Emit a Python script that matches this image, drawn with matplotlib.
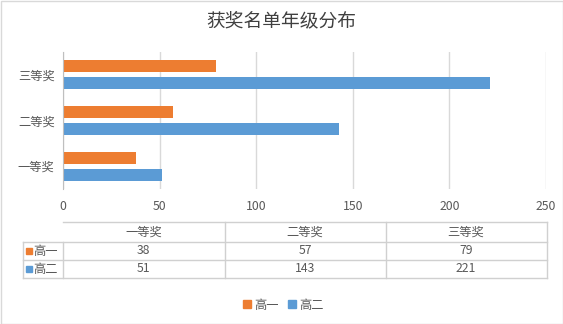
import numpy as np
import matplotlib
matplotlib.use("Agg")
from matplotlib import pyplot as plt
from matplotlib.patches import Rectangle
from matplotlib.lines import Line2D

plt.rcParams['font.family'] = ['Noto Sans CJK SC', 'DejaVu Sans']

# data
categories = ['一等奖', '二等奖', '三等奖']
series = ['高一', '高二']
g1 = [38, 57, 79]
g2 = [51, 143, 221]
colors = ['#ED7D31', '#5B9BD5']
title = '获奖名单年级分布'

W, H = 563, 324
txt = '#595959'
grid = '#d9d9d9'
fs = 8.8

fig = plt.figure(figsize=(W/100, H/100), dpi=100)

def box(x0, y0, x1, y1):
    # pixel box (top-left origin) -> figure rect
    return [x0/W, 1 - y1/H, (x1-x0)/W, (y1-y0)/H]

# outer border
fig.patches.append(Rectangle((0.5/W, 0.5/H), 1-1/W, 1-1/H, transform=fig.transFigure,
                             fill=False, edgecolor='#d9d9d9', lw=1))

fig.text(0.5, 1 - 21/H, title, ha='center', va='center', fontsize=13.5, color='#404040')

ax = fig.add_axes(box(63, 52, 546, 189))
y = np.arange(len(categories))
bh = 0.26
ax.barh(y + 0.185, g1, height=bh, color=colors[0], label=series[0])
ax.barh(y - 0.185, g2, height=bh, color=colors[1], label=series[1])
ax.set_ylim(-0.5, 2.5)
ax.set_xlim(0, 250)
ax.set_xticks(np.arange(0, 251, 50))
ax.set_yticks(y)
ax.set_yticklabels(categories)
ax.tick_params(axis='both', length=0, labelsize=fs, colors=txt)
ax.tick_params(axis='x', pad=8)
ax.tick_params(axis='y', pad=6)
ax.xaxis.grid(True, color=grid, lw=1)
ax.set_axisbelow(True)
for s in ['top', 'right', 'bottom']:
    ax.spines[s].set_visible(False)
ax.spines['left'].set_color('#bfbfbf')

# data table
tx = fig.add_axes(box(23, 222, 547, 278))
tx.set_xlim(23, 547)
tx.set_ylim(278, 222)
tx.axis('off')
cols = [63, 224.5, 385.5, 546.5]
rows = [222, 242, 260, 278]
lc = '#d0d0d0'
for xc in cols:
    tx.plot([xc, xc], [rows[0] if xc > 63 else rows[1], rows[-1]], color=lc, lw=1, clip_on=False)
tx.plot([23, 23], [rows[1], rows[-1]], color=lc, lw=1, clip_on=False)
tx.plot([63, 546.5], [rows[0], rows[0]], color=lc, lw=1, clip_on=False)
for yr in rows[1:]:
    tx.plot([23, 546.5], [yr, yr], color=lc, lw=1, clip_on=False)
for i, c in enumerate(categories):
    tx.text((cols[i] + cols[i+1]) / 2, (rows[0] + rows[1]) / 2, c, ha='center', va='center',
            fontsize=fs, color=txt)
for r, (name, vals) in enumerate(zip(series, [g1, g2])):
    yc = (rows[r+1] + rows[r+2]) / 2
    tx.add_patch(Rectangle((25.5, yc - 3), 6, 6, color=colors[r], clip_on=False))
    tx.text(33, yc, name, ha='left', va='center', fontsize=fs, color=txt)
    for i, v in enumerate(vals):
        tx.text((cols[i] + cols[i+1]) / 2, yc, str(v), ha='center', va='center',
                fontsize=fs, color=txt)

handles = [Line2D([], [], marker='s', ls='', markersize=6, color=c) for c in colors]
fig.legend(handles, series, loc='center', bbox_to_anchor=(282/W, 1 - 305/H), ncol=2,
           frameon=False, fontsize=fs, labelcolor=txt, handletextpad=0.1,
           columnspacing=0.6, handlelength=1.0)

fig.savefig('out.png', dpi=100)
